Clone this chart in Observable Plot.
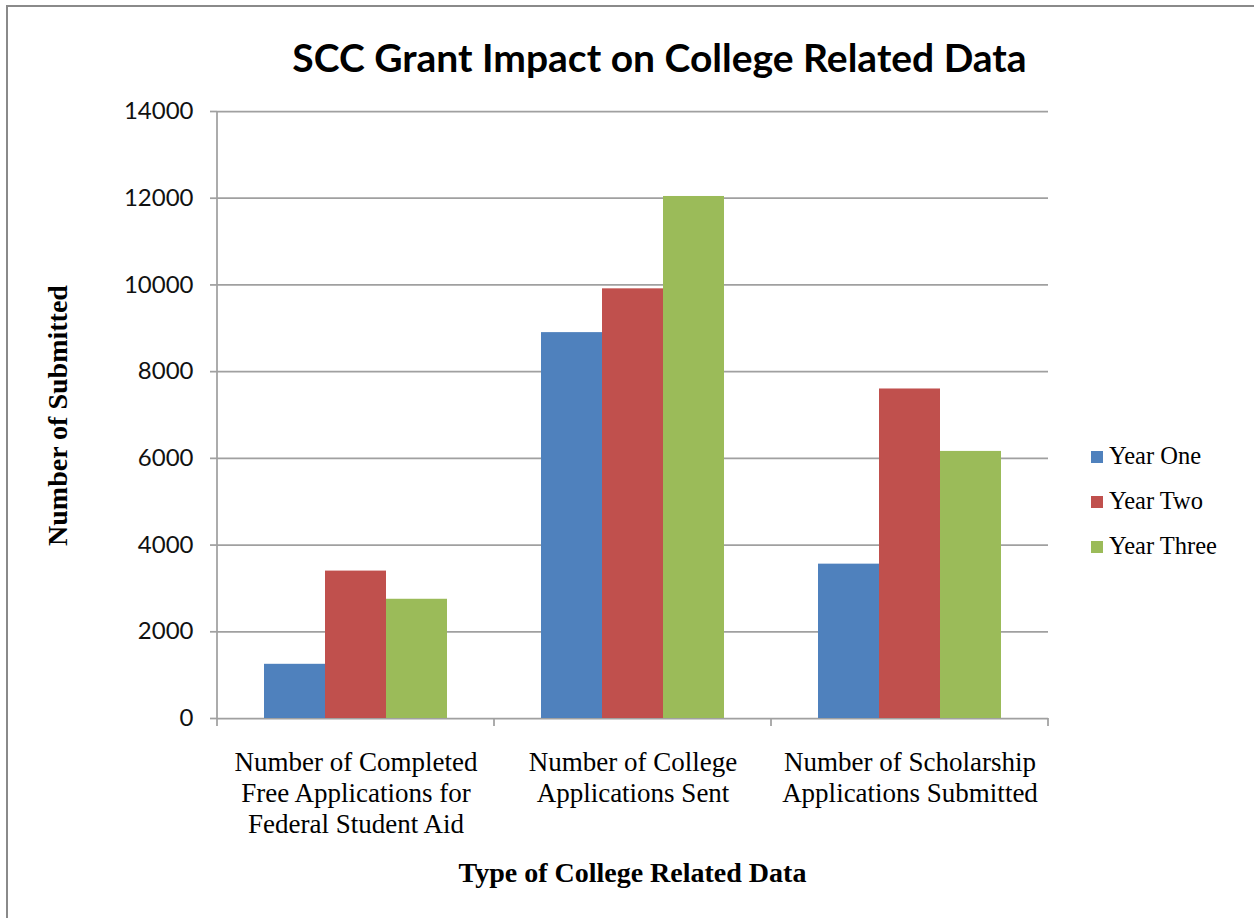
<!DOCTYPE html>
<html>
<head>
<meta charset="utf-8">
<script src="https://cdn.jsdelivr.net/npm/d3@7"></script>
<script src="https://cdn.jsdelivr.net/npm/@observablehq/plot@0.6"></script>
<style>
  html, body { margin: 0; padding: 0; background: #fff; }
  body { position: relative; width: 1254px; height: 918px; overflow: hidden; }
  #frame {
    position: absolute; left: 6px; top: 5px; width: 1270px; height: 940px;
    border: 2px solid #8a8a8a; box-sizing: border-box;
  }
  #chart { position: absolute; left: 0; top: 0; }
  #chart svg { display: block; }
</style>
</head>
<body>
<div id="frame"></div>
<div id="chart"></div>
<script>
// Categories along the x axis (full names, and how they wrap under the axis)
const categories = [
  "Number of Completed Free Applications for Federal Student Aid",
  "Number of College Applications Sent",
  "Number of Scholarship Applications Submitted"
];
const categoryLines = [
  ["Number of Completed", "Free Applications for", "Federal Student Aid"],
  ["Number of College", "Applications Sent"],
  ["Number of Scholarship", "Applications Submitted"]
];

// One series per program year
const seriesNames = ["Year One", "Year Two", "Year Three"];
const yearOne = [1250, 8900, 3560];
const yearTwo = [3400, 9910, 7600];
const yearThree = [2750, 12040, 6160];
const seriesColors = ["#4f81bd", "#c0504d", "#9bbb59"];

const yTicks = [0, 2000, 4000, 6000, 8000, 10000, 12000, 14000];

const titleText = "SCC Grant Impact on College Related Data";
const yTitle = "Number of Submitted";
const xTitle = "Type of College Related Data";

// Long-format table for the grouped bars
const seriesValues = [yearOne, yearTwo, yearThree];
const rows = categories.flatMap((c, i) =>
  seriesNames.map((s, j) => ({category: c, series: s, value: seriesValues[j][i]}))
);

const gridColor = "#a0a0a0";

const chart = Plot.plot({
  width: 1254,
  height: 918,
  marginLeft: 216,
  marginRight: 206,
  marginTop: 111,
  marginBottom: 200,
  style: {background: "transparent", color: "#000", overflow: "visible"},
  fx: {domain: categories, padding: 0, label: null},
  x: {domain: seriesNames, paddingInner: 0, paddingOuter: 0.75, axis: null},
  y: {domain: [0, 14000], label: null},
  color: {domain: seriesNames, range: seriesColors},
  marks: [
    Plot.gridY(yTicks, {stroke: gridColor, strokeOpacity: 1, strokeWidth: 1.75}),
    Plot.barY(rows, {fx: "category", x: "series", y: "value", fill: "series"}),
    Plot.axisY(yTicks, {
      tickSize: 7, tickPadding: 17, stroke: gridColor, strokeWidth: 1.75,
      fill: "#111", fontSize: 24, fontFamily: "Lato", label: null,
      tickFormat: d => String(d)
    }),
    Plot.axisFx({
      anchor: "bottom", tickSize: 0, tickPadding: 30, label: null,
      fontSize: 27, fontFamily: "Liberation Serif", fill: "#000", lineHeight: 1.15,
      tickFormat: c => categoryLines[categories.indexOf(c)].join("\n")
    })
  ]
});

document.getElementById("chart").appendChild(chart);

// Axis line and category boundary ticks, placed with the chart's own scales
const svg = d3.select(chart);
const fx = chart.scale("fx");
const y = chart.scale("y");
const starts = categories.map(c => fx.apply(c));
const edges = starts.concat([starts[starts.length - 1] + fx.bandwidth]);
const y0 = y.apply(0);
const yTop = y.apply(14000);
const decor = svg.append("g").attr("stroke", gridColor).attr("stroke-width", 1.75);
decor.append("line")
  .attr("x1", edges[0]).attr("x2", edges[0])
  .attr("y1", yTop).attr("y2", y0 + 8);
edges.slice(1).forEach(e => {
  decor.append("line").attr("x1", e).attr("x2", e).attr("y1", y0).attr("y2", y0 + 8);
});

// Title
svg.append("text")
  .attr("x", (edges[0] + edges[3]) / 2 + 27)
  .attr("y", 72)
  .attr("text-anchor", "middle")
  .attr("font-family", "Lato")
  .attr("font-weight", "bold")
  .attr("font-size", 39)
  .attr("fill", "#000")
  .text(titleText);

// Axis titles
svg.append("text")
  .attr("transform", `translate(67, ${(yTop + y0) / 2 + 1}) rotate(-90)`)
  .attr("text-anchor", "middle")
  .attr("font-family", "Liberation Serif")
  .attr("font-weight", "bold")
  .attr("font-size", 28)
  .attr("fill", "#000")
  .text(yTitle);

svg.append("text")
  .attr("x", starts[1] + fx.bandwidth / 2)
  .attr("y", 882)
  .attr("text-anchor", "middle")
  .attr("font-family", "Liberation Serif")
  .attr("font-weight", "bold")
  .attr("font-size", 28)
  .attr("fill", "#000")
  .text(xTitle);

// Legend
const color = chart.scale("color");
const legend = svg.append("g").attr("transform", "translate(1091, 451)");
seriesNames.forEach((s, i) => {
  const row = legend.append("g").attr("transform", `translate(0, ${i * 45})`);
  row.append("rect").attr("width", 12).attr("height", 12).attr("fill", color.apply(s));
  row.append("text")
    .attr("x", 18).attr("y", 13.3)
    .attr("text-anchor", "start")
    .attr("font-family", "Liberation Serif")
    .attr("font-size", 24.5)
    .attr("fill", "#000")
    .text(s);
});
</script>
</body>
</html>
